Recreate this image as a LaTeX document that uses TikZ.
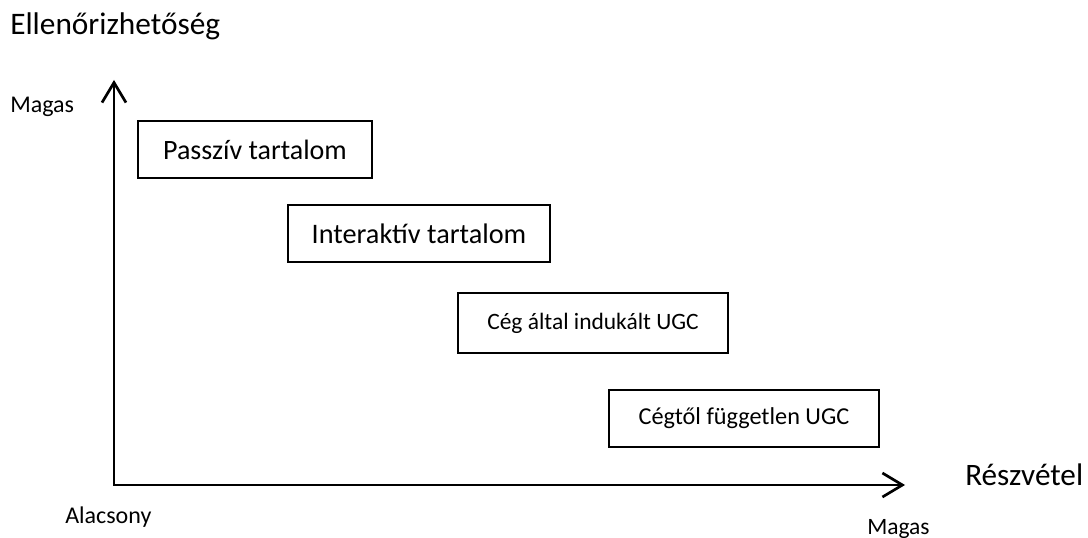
\documentclass[tikz,border=0pt]{standalone}
\usepackage{fontspec}
\setmainfont{Carlito}
\usetikzlibrary{arrows.meta}

\begin{document}
\begin{tikzpicture}[x=0.75pt,y=-0.75pt,
  box/.style={draw, line width=1.9pt, inner sep=0pt},
  axis/.style={line width=2pt, {Straight Barb[length=15pt,width=18pt]}-{Straight Barb[length=15pt,width=18pt]}},
  lbl/.style={anchor=base west, inner sep=0pt}]
  % Canvas (pixel units of the original)
  \useasboundingbox (0,0) rectangle (1088,538);

  % Axes
  \coordinate (origin) at (114,485);
  \coordinate (ytip) at (114,80);
  \coordinate (xtip) at (905,485);
  \draw[axis] (ytip) -- (origin) -- (xtip);

  % Boxes: (name/center x/center y/width/height/font size/text)
  \foreach \nm/\cx/\cy/\w/\h/\fs/\txt in {%
    passziv/255/149.5/175.5/42.75/21/Passzív tartalom,
    interaktiv/419/233.5/196.5/42.75/21.2/Interaktív tartalom,
    indukalt/593/323/202.5/45/17.6/Cég által indukált UGC,
    fuggetlen/744/418.5/202.5/42.75/18.2/Cégtől független UGC%
  } {%
    \node[box, minimum width=\w pt, minimum height=\h pt,
          font=\fontsize{\fs}{\fs}\selectfont] (\nm) at (\cx,\cy) {\txt};
  }

  % Axis labels
  \node[lbl, font=\fontsize{23.5}{23.5}\selectfont] (ytitle) at (10,35) {Ellenőrizhetőség};
  \node[lbl, font=\fontsize{18}{18}\selectfont] (yhigh) at (10,113) {Magas};
  \node[lbl, font=\fontsize{18}{18}\selectfont] (low) at (65,523) {Alacsony};
  \node[lbl, font=\fontsize{17.6}{17.6}\selectfont] (xhigh) at (867,534) {Magas};
  \node[lbl, font=\fontsize{23.4}{23.4}\selectfont] (xtitle) at (965,485) {Részvétel};
\end{tikzpicture}
\end{document}
